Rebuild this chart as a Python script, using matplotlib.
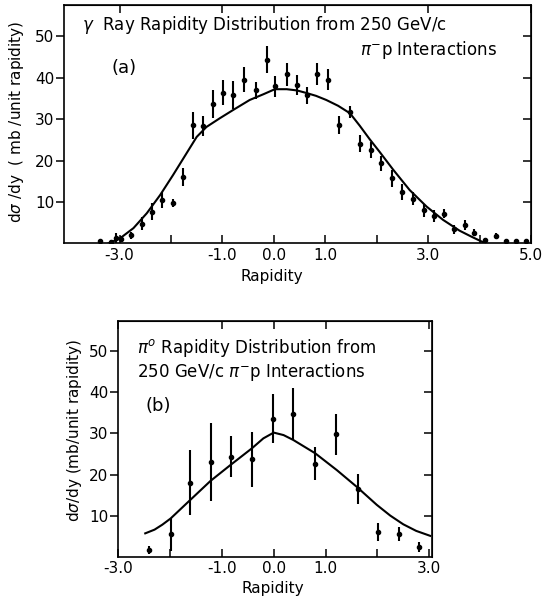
import matplotlib
matplotlib.use("Agg")
import matplotlib.pyplot as plt

# ---- panel (a): gamma ray rapidity distribution
gam_y = [-3.38, -3.17, -3.07, -2.98, -2.78, -2.57, -2.36, -2.17, -1.97, -1.77,
         -1.58, -1.38, -1.18, -0.98, -0.79, -0.58, -0.35, -0.14, 0.02, 0.26,
         0.45, 0.65, 0.84, 1.05, 1.26, 1.48, 1.67, 1.88, 2.09, 2.30,
         2.49, 2.71, 2.91, 3.11, 3.30, 3.51, 3.71, 3.90, 4.10, 4.32,
         4.52, 4.71, 4.91]
gam_val = [0.6, 0.3, 1.3, 1.1, 2.0, 4.8, 7.7, 10.4, 9.8, 16.0,
           28.5, 28.3, 33.6, 36.3, 35.8, 39.5, 36.9, 44.3, 37.9, 40.8,
           38.2, 35.7, 40.8, 39.5, 28.5, 31.7, 24.1, 22.5, 19.3, 15.7,
           12.4, 10.8, 8.0, 6.6, 7.2, 3.4, 4.4, 2.6, 0.9, 1.8,
           0.6, 0.6, 0.6]
gam_err = [0.0, 0.0, 1.3, 0.8, 0.8, 1.5, 2.1, 1.9, 1.0, 2.2,
           3.2, 2.5, 3.4, 3.0, 3.3, 3.0, 2.0, 3.3, 2.5, 2.8,
           2.5, 2.0, 2.7, 2.5, 2.2, 1.5, 2.0, 2.0, 1.8, 2.0,
           2.0, 1.5, 1.5, 1.5, 1.0, 1.0, 1.2, 0.8, 0.5, 0.8,
           0.0, 0.0, 0.0]
gam_fit_y = [-3.22, -2.99, -2.73, -2.47, -2.21, -1.96, -1.70, -1.50, -1.31, -1.05,
             -0.79, -0.47, -0.20, 0.02, 0.25, 0.45, 0.63, 0.82, 1.02, 1.25,
             1.48, 1.67, 1.86, 2.05, 2.32, 2.64, 2.97, 3.29, 3.61, 3.85,
             4.12]
gam_fit = [0.0, 1.25, 3.7, 7.3, 11.7, 16.5, 21.7, 25.7, 28.1, 30.2,
           32.2, 34.6, 36.0, 37.2, 37.2, 36.9, 36.3, 35.6, 34.6, 33.2,
           31.4, 28.4, 25.2, 22.2, 17.8, 12.9, 8.9, 5.7, 3.1, 1.6,
           0.0]

# ---- panel (b): pi0 rapidity distribution
pi0_y = [-2.41, -1.99, -1.62, -1.22, -0.82, -0.41, -0.02, 0.38, 0.80, 1.20,
         1.62, 2.02, 2.42, 2.81]
pi0_val = [1.8, 5.6, 18.1, 23.1, 24.4, 23.7, 33.6, 34.7, 22.6, 29.8,
           16.5, 6.2, 5.6, 2.6]
pi0_err = [1.0, 4.0, 7.8, 9.5, 4.9, 6.7, 6.0, 6.2, 4.0, 5.0,
           3.6, 2.2, 1.7, 1.2]
pi0_fit_y = [-2.48, -2.30, -2.15, -1.99, -1.61, -1.22, -0.84, -0.42, -0.20, 0.0,
             0.19, 0.38, 0.80, 1.22, 1.60, 1.99, 2.25, 2.50, 2.75, 3.02]
pi0_fit = [5.8, 6.7, 7.9, 9.4, 13.9, 18.5, 22.3, 26.4, 28.8, 30.2,
           29.6, 28.4, 25.2, 21.1, 17.1, 12.7, 10.1, 8.0, 6.4, 5.2]

W, H = 545, 600
fig = plt.figure(figsize=(W / 100, H / 100), dpi=100)
plt.rcParams['font.family'] = ['DejaVu Sans']
fs = 12      # in-plot text
tfs = 11     # tick labels


def box(l, t, r, b):
    # pixel box -> figure fraction
    return [l / W, 1 - b / H, (r - l) / W, (b - t) / H]


def style(ax, xt, xlab, xminor):
    for s in ax.spines.values():
        s.set_linewidth(1.2)
    ax.set_yticks([10, 20, 30, 40, 50])
    ax.set_yticklabels(['10', '20', '30', '40', '50'], fontsize=tfs)
    ax.tick_params(axis='y', direction='out', length=6, width=1.1, pad=1)
    ax.set_xticks(xt)
    ax.set_xticklabels(xlab, fontsize=tfs)
    ax.set_xticks(xminor, minor=True)
    ax.tick_params(axis='x', which='both', direction='in', length=6, width=1.1, pad=3)
    rt = ax.secondary_yaxis('right')
    rt.set_yticks([10, 20, 30, 40, 50])
    rt.tick_params(direction='in', length=6, width=1.1, labelright=False)
    tp = ax.secondary_xaxis('top')
    tp.set_xticks(xt)
    tp.tick_params(direction='in', length=6, width=1.1, labeltop=False)


# ---------------- (a)
ax1 = fig.add_axes(box(64, 5, 531, 243.5))
ax1.errorbar(gam_y, gam_val, yerr=gam_err, fmt='o', color='black', ms=3,
             elinewidth=1.5, capsize=0)
ax1.plot(gam_fit_y, gam_fit, color='black', lw=1.5)
ax1.set_xlim(-4.08, 5.0)
ax1.set_ylim(0, 57.5)
style(ax1, [-3, -1, 0, 1, 3, 5], ['-3.0', '-1.0', '0.0', '1.0', '3.0', '5.0'], [-2, 2, 4])
ax1.text(-3.73, 52.6, r'$\gamma$  Ray Rapidity Distribution from 250 GeV/c',
         fontsize=fs, va='center')
ax1.text(4.33, 46.6, r'$\pi^{-}$p Interactions', fontsize=fs, va='center', ha='right')
ax1.text(-3.15, 42.3, '(a)', fontsize=13, va='center')
fig.text(17 / W, 1 - 122 / H, r'd$\sigma$ /dy  ( mb /unit rapidity)', rotation=90,
         fontsize=11, ha='center', va='center')
fig.text(272 / W, 1 - 276 / H, 'Rapidity', fontsize=11, ha='center', va='center')

# ---------------- (b)
ax2 = fig.add_axes(box(118.3, 320.7, 431.7, 557.3))
ax2.errorbar(pi0_y, pi0_val, yerr=pi0_err, fmt='o', color='black', ms=3,
             elinewidth=1.5, capsize=0)
ax2.plot(pi0_fit_y, pi0_fit, color='black', lw=1.5)
ax2.set_xlim(-3.0, 3.05)
ax2.set_ylim(0, 57.3)
style(ax2, [-3, -1, 0, 1, 3], ['-3.0', '-1.0', '0.0', '1.0', '3.0'], [-2, 2])
ax2.text(-2.64, 50.7, r'$\pi^{o}$ Rapidity Distribution from', fontsize=fs, va='center')
ax2.text(-2.64, 44.9, r'250 GeV/c $\pi^{-}$p Interactions', fontsize=fs, va='center')
ax2.text(-2.48, 36.6, '(b)', fontsize=13, va='center')
fig.text(75 / W, 1 - 430 / H, r'd$\sigma$/dy (mb/unit rapidity)', rotation=90,
         fontsize=11, ha='center', va='center')
fig.text(273 / W, 1 - 589 / H, 'Rapidity', fontsize=11, ha='center', va='center')

fig.savefig('out.png', dpi=100)
